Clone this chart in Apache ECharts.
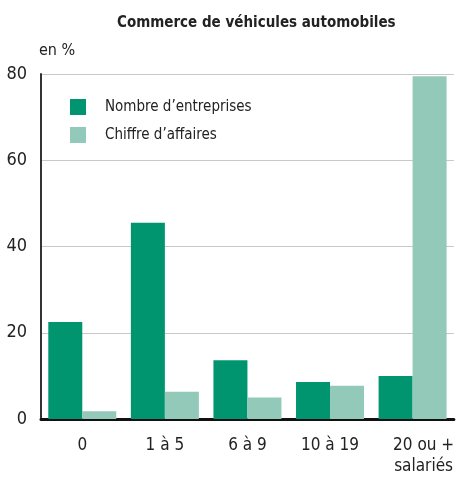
<!DOCTYPE html>
<html>
<head>
<meta charset="utf-8">
<script src="https://cdn.jsdelivr.net/npm/echarts@6/dist/echarts.min.js"></script>
<style>
  html, body { margin: 0; padding: 0; background: #fff; }
  #chart { width: 457px; height: 477px; }
</style>
</head>
<body>
<div id="chart"></div>
<script>
const categories = ['0', '1 à 5', '6 à 9', '10 à 19', '20 ou +\nsalariés'];
const nombreEntreprises = [22.5, 45.5, 13.6, 8.6, 10.0];
const chiffreAffaires = [1.8, 6.3, 5.0, 7.7, 79.5];
const yTicks = [0, 20, 40, 60, 80];

const font = "'Liberation Sans Narrow', 'DejaVu Sans Condensed', 'Liberation Sans', sans-serif";

const chart = echarts.init(document.getElementById('chart'));

// last label sits to the right in the original
const xData = categories.map((c, i) =>
    i === categories.length - 1
        ? { value: c, textStyle: { padding: [0, 0, 0, 22] } }
        : c
);

const option = {
    animation: false,
    textStyle: { fontFamily: font },
    title: {
        text: 'Commerce de véhicules automobiles',
        left: 112,
        top: 11,
        textStyle: { fontFamily: font, fontSize: 15, fontWeight: 'bold', color: '#222' }
    },
    legend: {
        orient: 'vertical',
        left: 65,
        top: 94,
        itemWidth: 16,
        itemHeight: 16,
        itemGap: 12,
        icon: 'rect',
        data: ['Nombre d\u2019entreprises', 'Chiffre d\u2019affaires'],
        textStyle: { fontFamily: font, fontSize: 15, color: '#222', padding: [0, 0, 0, 14] }
    },
    grid: { left: 41, right: 2, top: 74, bottom: 53, containLabel: false },
    xAxis: {
        type: 'category',
        data: xData,
        axisTick: { show: false },
        axisLine: { lineStyle: { color: '#111', width: 3 } },
        axisLabel: { fontFamily: font, fontSize: 17, color: '#222', margin: 16, lineHeight: 21 }
    },
    yAxis: {
        type: 'value',
        min: yTicks[0],
        max: yTicks[yTicks.length - 1],
        interval: 20,
        name: 'en %',
        nameLocation: 'end',
        nameGap: 15,
        nameTextStyle: { fontFamily: font, fontSize: 16, color: '#222', align: 'left', padding: [0, 0, 0, -2] },
        axisLine: { show: true, lineStyle: { color: '#333', width: 2 } },
        axisTick: { show: false },
        axisLabel: { fontFamily: font, fontSize: 18, color: '#222', margin: 14 },
        splitLine: { lineStyle: { color: '#c8c8c8', width: 1 } }
    },
    series: [
        {
            name: 'Nombre d\u2019entreprises',
            type: 'bar',
            data: nombreEntreprises,
            barWidth: 34,
            barGap: '0%',
            itemStyle: { color: '#00956f' }
        },
        {
            name: 'Chiffre d\u2019affaires',
            type: 'bar',
            data: chiffreAffaires,
            barWidth: 34,
            itemStyle: { color: '#93c9b8' }
        }
    ]
};

chart.setOption(option);
</script>
</body>
</html>
